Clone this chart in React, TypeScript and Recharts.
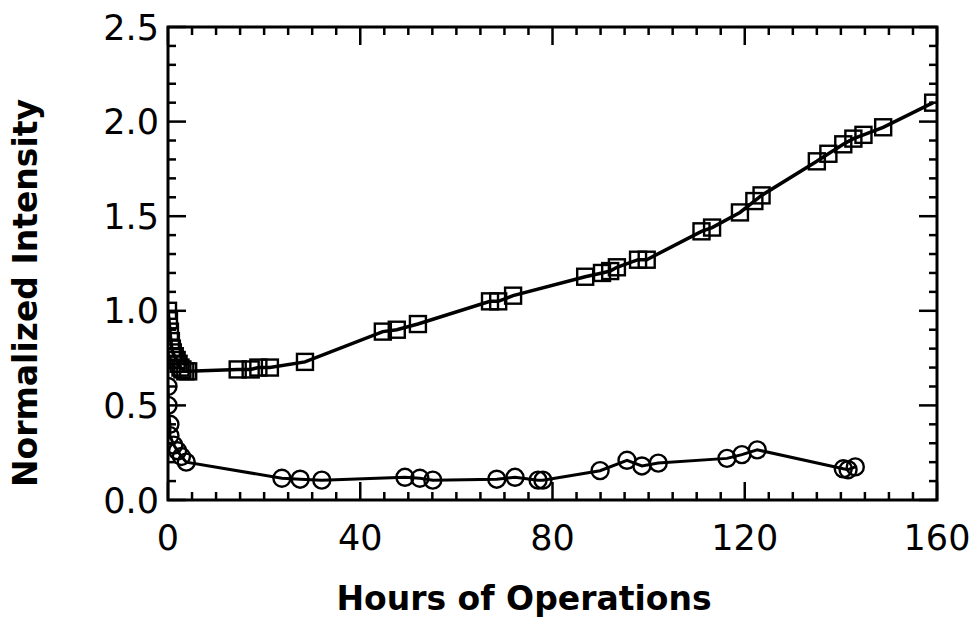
import { LineChart, Line, XAxis, YAxis, ReferenceArea, Label } from "recharts";

// square series (upper curve)
const squareHours = [
  0, 0.2, 0.4, 0.6, 0.8, 1.0, 1.4, 1.8, 2.2, 2.6, 3.0, 3.6, 4.2, 14.5, 17.2, 18.8, 21.2, 28.5, 44.7, 47.6,
  52.0, 67.0, 68.7, 71.8, 86.8, 90.3, 92.0, 93.4, 97.8, 99.6, 111.0, 113.2, 119.0, 122.0, 123.5, 135.0,
  137.4, 140.5, 142.6, 144.7, 148.8, 159.2,
];
const squareIntensity = [
  1.0, 0.95, 0.89, 0.84, 0.8, 0.78, 0.76, 0.74, 0.72, 0.7, 0.69, 0.68, 0.68, 0.69, 0.69, 0.7, 0.7, 0.73, 0.89,
  0.9, 0.93, 1.05, 1.05, 1.08, 1.18, 1.2, 1.21, 1.23, 1.27, 1.27, 1.42, 1.44, 1.52, 1.58, 1.61, 1.79, 1.83,
  1.88, 1.91, 1.93, 1.97, 2.1,
];

// circle series (lower curve)
const circleHours = [
  0, 0, 0.4, 0.4, 1.2, 2.0, 2.8, 3.8, 23.7, 27.5, 32.0, 49.3, 52.4, 55.1, 68.4, 72.2, 77.0, 78.0, 89.9, 95.5,
  98.6, 102.0, 116.3, 119.4, 122.6, 140.5, 141.5, 143.0,
];
const circleIntensity = [
  0.6, 0.5, 0.4, 0.34, 0.29, 0.26, 0.23, 0.2, 0.115, 0.11, 0.105, 0.12, 0.115, 0.105, 0.11, 0.12, 0.105, 0.105,
  0.155, 0.21, 0.18, 0.195, 0.22, 0.24, 0.265, 0.165, 0.16, 0.175,
];

const xTicks = [
  0, 5, 10, 15, 20, 25, 30, 35, 40, 45, 50, 55, 60, 65, 70, 75, 80, 85, 90, 95, 100, 105, 110, 115, 120, 125,
  130, 135, 140, 145, 150, 155, 160,
];
const yTicks = [
  0, 0.1, 0.2, 0.3, 0.4, 0.5, 0.6, 0.7, 0.8, 0.9, 1.0, 1.1, 1.2, 1.3, 1.4, 1.5, 1.6, 1.7, 1.8, 1.9, 2.0, 2.1,
  2.2, 2.3, 2.4, 2.5,
];

const W = 979;
const H = 619;
const X_AXIS_H = 60;
const Y_AXIS_W = 160;
const M = { top: 27, right: 42, bottom: 119 - X_AXIS_H, left: 168 - Y_AXIS_W };
const PLOT_TOP = M.top;
const PLOT_RIGHT = W - M.right;
const PLOT_LEFT = 168;
const PLOT_BOTTOM = H - 119;
const FONT = "'DejaVu Sans', Verdana, sans-serif";

const squares = squareHours.map((x, i) => ({ x, y: squareIntensity[i] }));
const circles = circleHours.map((x, i) => ({ x, y: circleIntensity[i] }));

const XTick = (props: any) => {
  const { x, payload } = props;
  const v = payload.value;
  const major = v % 40 === 0;
  const len = major ? 18 : 8;
  const y = PLOT_BOTTOM;
  return (
    <g>
      <line x1={x} x2={x} y1={y} y2={y - len} stroke="#000" strokeWidth={2.5} />
      <line x1={x} x2={x} y1={PLOT_TOP} y2={PLOT_TOP + len} stroke="#000" strokeWidth={2.5} />
      {major && (
        <text x={x} y={y + 50} textAnchor="middle" fontFamily={FONT} fontSize={35} fill="#000">
          {v}
        </text>
      )}
    </g>
  );
};

const YTick = (props: any) => {
  const { y, payload } = props;
  const v = payload.value;
  const major = Math.round(v * 10) % 5 === 0;
  const len = major ? 18 : 8;
  const x = PLOT_LEFT;
  return (
    <g>
      <line x1={x} x2={x + len} y1={y} y2={y} stroke="#000" strokeWidth={2.5} />
      <line x1={PLOT_RIGHT} x2={PLOT_RIGHT - len} y1={y} y2={y} stroke="#000" strokeWidth={2.5} />
      {major && (
        <text x={x - 9} y={y + 12.5} textAnchor="end" fontFamily={FONT} fontSize={35} fill="#000">
          {v.toFixed(1)}
        </text>
      )}
    </g>
  );
};

const SquareDot = (props: any) => {
  const { cx, cy, index } = props;
  if (cx == null || cy == null) return <g key={index} />;
  return <rect key={index} x={cx - 8} y={cy - 8} width={16} height={16} fill="none" stroke="#000" strokeWidth={2.4} />;
};

export default function App() {
  return (
    <div style={{ position: "absolute", left: 0, top: 0, width: W, height: H, background: "#fff" }}>
      <LineChart width={W} height={H} margin={M}>
        <XAxis
          dataKey="x"
          type="number"
          domain={[0, 160]}
          ticks={xTicks}
          interval={0}
          height={X_AXIS_H}
          tickSize={0}
          tickMargin={0}
          axisLine={false}
          tickLine={false}
          tick={<XTick />}
          allowDataOverflow
        >
          <Label
            content={() => (
              <text x={524} y={610} textAnchor="middle" fontFamily={FONT} fontSize={33} fontWeight="bold" fill="#000">
                Hours of Operations
              </text>
            )}
          />
        </XAxis>
        <YAxis
          type="number"
          domain={[0, 2.5]}
          ticks={yTicks}
          interval={0}
          width={Y_AXIS_W}
          tickSize={0}
          tickMargin={0}
          axisLine={false}
          tickLine={false}
          tick={<YTick />}
          allowDataOverflow
        >
          <Label
            content={() => (
              <text
                x={37}
                y={293}
                transform="rotate(-90 37 293)"
                textAnchor="middle"
                fontFamily={FONT}
                fontSize={33}
                fontWeight="bold"
                fill="#000"
              >
                Normalized Intensity
              </text>
            )}
          />
        </YAxis>
        <ReferenceArea x1={0} x2={160} y1={0} y2={2.5} fill="none" stroke="#000" strokeWidth={3} />
        <Line
          data={squares}
          dataKey="y"
          type="linear"
          stroke="#000"
          strokeWidth={3.5}
          dot={SquareDot}
          activeDot={false}
          isAnimationActive={false}
        />
        <Line
          data={circles}
          dataKey="y"
          type="linear"
          stroke="#000"
          strokeWidth={3}
          dot={{ r: 8.5, fill: "none", stroke: "#000", strokeWidth: 2.4 }}
          activeDot={false}
          isAnimationActive={false}
        />
      </LineChart>
    </div>
  );
}
